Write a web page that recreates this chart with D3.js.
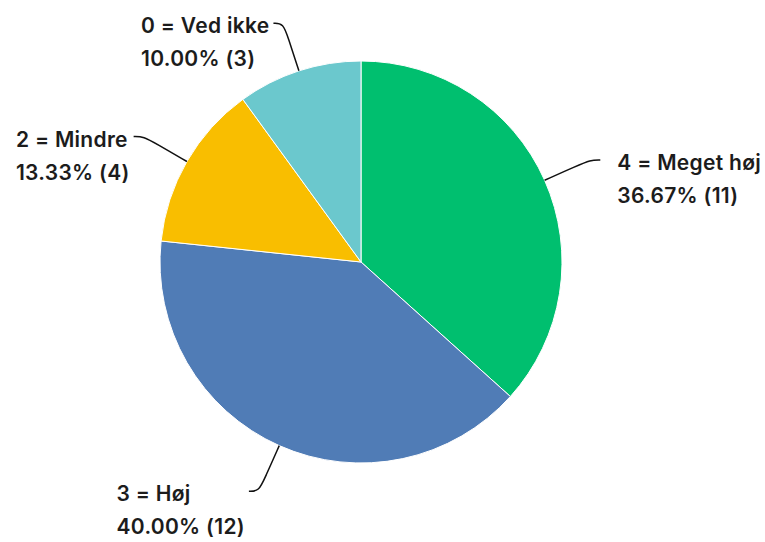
<!DOCTYPE html>
<html>
<head>
<meta charset="utf-8">
<script src="https://cdn.jsdelivr.net/npm/d3@7"></script>
<style>
  body { margin: 0; background: #fff; }
  text { font-family: Inter, "Noto Sans", sans-serif; font-weight: 600; fill: #1c1c1c; }
</style>
</head>
<body>
<div id="chart"></div>
<script>
// answer categories, in the order they go round the pie (clockwise from 12 o'clock)
let categories = ["4 = Meget høj", "3 = Høj", "2 = Mindre", "0 = Ved ikke"];
let counts = [11, 12, 4, 3];
let percents = ["36.67%", "40.00%", "13.33%", "10.00%"];
let colors = ["#00BF6F", "#507CB6", "#F9BE00", "#6BC8CD"];

let width = 765, height = 542;
let cx = 361, cy = 262, radius = 201;

let svg = d3.select("#chart").append("svg")
    .attr("width", width)
    .attr("height", height);

let data = categories.map(function(c, i) {
    return { name: c, count: counts[i], pct: percents[i], color: colors[i] };
});

let pie = d3.pie().sort(null).value(function(d) { return d.count; });
let arc = d3.arc().innerRadius(0).outerRadius(radius);
let arcs = pie(data);

let g = svg.append("g").attr("transform", "translate(" + cx + "," + cy + ")");

g.selectAll(".slice").data(arcs).enter().append("path")
    .attr("class", "slice")
    .attr("d", arc)
    .attr("fill", function(d) { return d.data.color; })
    .attr("stroke", "#fff")
    .attr("stroke-width", 1);

// leader lines + labels
let ext = 50, hook = 10;
arcs.forEach(function(d) {
    let a = (d.startAngle + d.endAngle) / 2;
    let dx = Math.sin(a), dy = -Math.cos(a);
    let p0 = [dx * radius, dy * radius];
    let p1 = [dx * (radius + ext), dy * (radius + ext)];
    let side = dx >= 0 ? 1 : -1;
    let p2 = [p1[0] + side * hook, p1[1]];
    let mid = [dx * (radius + ext * 0.7), dy * (radius + ext * 0.7)];

    g.append("path")
        .attr("d", d3.line().curve(d3.curveBasis)([p0, mid, p1, p2]))
        .attr("fill", "none")
        .attr("stroke", "#111")
        .attr("stroke-width", 1.5);

    let lab = g.append("text")
        .attr("font-size", 21)
        .attr("letter-spacing", 0.3)
        .attr("y", p2[1] + 10);
    lab.append("tspan").attr("x", 0).text(d.data.name);
    lab.append("tspan").attr("x", 0).attr("dy", 33)
        .text(d.data.pct + " (" + d.data.count + ")");

    let w = 0;
    lab.selectAll("tspan").each(function() {
        w = Math.max(w, this.getComputedTextLength());
    });
    let left = side > 0 ? p2[0] + 17 : p2[0] - 4 - w;
    lab.selectAll("tspan").attr("x", left);
});
</script>
</body>
</html>
